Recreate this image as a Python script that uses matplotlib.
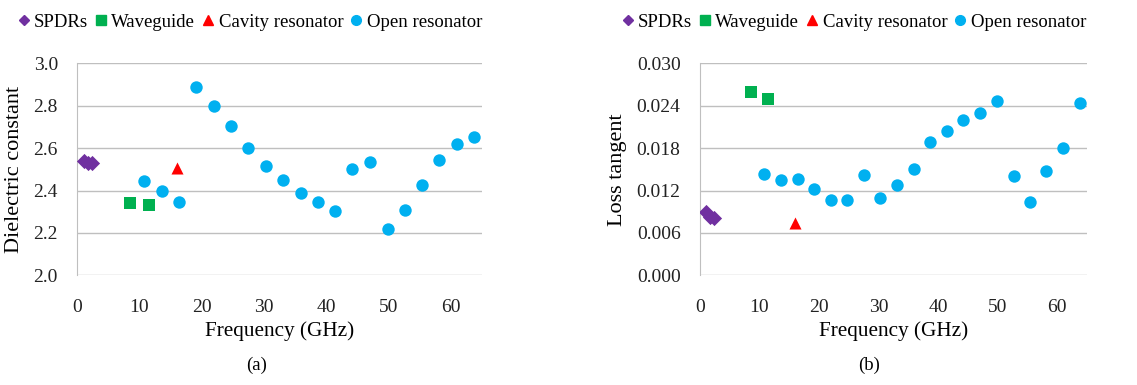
import matplotlib
matplotlib.use("Agg")
import matplotlib.pyplot as plt
from matplotlib.lines import Line2D

plt.rcParams['font.family'] = ['Liberation Serif', 'DejaVu Serif']

# data
spdr_freq = [1.0, 1.7, 2.3]
spdr_eps = [2.54, 2.53, 2.53]
spdr_tan = [0.0090, 0.0083, 0.0081]

wg_freq = [8.5, 11.5]
wg_eps = [2.34, 2.33]
wg_tan = [0.0260, 0.0249]

cav_freq = [16.0]
cav_eps = [2.505]
cav_tan = [0.0074]

open_freq = [10.7, 13.6, 16.4, 19.1, 22.0, 24.7, 27.5, 30.3, 33.1, 35.9,
             38.7, 41.5, 44.2, 47.1, 49.9, 52.7, 55.4, 58.2, 61.0, 63.8]
open_eps = [2.447, 2.400, 2.346, 2.887, 2.800, 2.706, 2.599, 2.516, 2.451, 2.387,
            2.347, 2.303, 2.502, 2.535, 2.219, 2.308, 2.425, 2.544, 2.618, 2.651]
open_tan = [0.01434, 0.01344, 0.01358, 0.01222, 0.01066, 0.01066, 0.01415, 0.01099,
            0.01274, 0.0150, 0.01882, 0.02038, 0.02193, 0.02302, 0.02472, 0.01406,
            0.01033, 0.01472, 0.01797, 0.02434]

eps_ticks = [2.0, 2.2, 2.4, 2.6, 2.8, 3.0]
tan_ticks = [0.000, 0.006, 0.012, 0.018, 0.024, 0.030]
freq_ticks = [0, 10, 20, 30, 40, 50, 60]

PURPLE = "#7030A0"
GREEN = "#00B050"
RED = "#FF0000"
BLUE = "#00B0F0"
GRID = "#BFBFBF"

fig = plt.figure(figsize=(11.37, 3.85), dpi=100)
W, H = 1137.0, 385.0
ax1 = fig.add_axes([77.3 / W, 1 - 275.3 / H, (481.7 - 77.3) / W, (275.3 - 63.3) / H])
ax2 = fig.add_axes([700 / W, 1 - 275.3 / H, (1086.7 - 700) / W, (275.3 - 63.3) / H])


def style_axis(ax, yticks, fmt, ylabel, ylabel_x):
    ax.set_xlim(0, 65)
    ax.set_ylim(yticks[0], yticks[-1])
    ax.set_xticks(freq_ticks)
    ax.set_yticks(yticks)
    ax.set_yticklabels([fmt.format(v) for v in yticks])
    ax.yaxis.grid(True, color=GRID, lw=1.0)
    ax.set_axisbelow(True)
    for s in ["top", "right", "bottom"]:
        ax.spines[s].set_visible(False)
    ax.spines["left"].set_color(GRID)
    ax.tick_params(length=0, labelsize=14, colors="#222222")
    ax.tick_params(axis="x", pad=17)
    ax.tick_params(axis="y", pad=14)
    ax.set_xlabel("Frequency (GHz)", fontsize=15.3)
    ax.xaxis.set_label_coords(0.5, -0.215)
    ax.set_ylabel(ylabel, fontsize=16)
    ax.yaxis.set_label_coords(ylabel_x, 0.5)


def draw(ax, spdr, wg, cav, op):
    ax.scatter(open_freq, op, s=80, marker="o", color=BLUE, zorder=3, linewidths=0)
    ax.scatter(spdr_freq, spdr, s=60, marker="D", color=PURPLE, zorder=3, linewidths=0)
    ax.scatter(wg_freq, wg, s=80, marker="s", color=GREEN, zorder=3, linewidths=0)
    ax.scatter(cav_freq, cav, s=75, marker="^", color=RED, zorder=3, linewidths=0)


draw(ax1, spdr_eps, wg_eps, cav_eps, open_eps)
draw(ax2, spdr_tan, wg_tan, cav_tan, open_tan)
style_axis(ax1, eps_ticks, "{:.1f}", "Dielectric constant", -0.132)
style_axis(ax2, tan_ticks, "{:.3f}", "Loss tangent", -0.19)

handles = [
    Line2D([], [], ls="none", marker="D", color=PURPLE, markersize=5),
    Line2D([], [], ls="none", marker="s", color=GREEN, markersize=7),
    Line2D([], [], ls="none", marker="^", color=RED, markersize=7),
    Line2D([], [], ls="none", marker="o", color=BLUE, markersize=7),
]
labels = ["SPDRs", "Waveguide", "Cavity resonator", "Open resonator"]
for cx in (250 / W, 854 / W):
    fig.legend(handles, labels, loc="center", bbox_to_anchor=(cx, 1 - 22 / H),
               ncol=4, frameon=False, fontsize=13.5, handlelength=0.6,
               handletextpad=0.25, columnspacing=0.4, borderpad=0)

fig.text(257 / W, 1 - 365 / H, "(a)", ha="center", va="center", fontsize=13.5)
fig.text(869 / W, 1 - 365 / H, "(b)", ha="center", va="center", fontsize=13.5)

fig.savefig("out.png", dpi=100)
